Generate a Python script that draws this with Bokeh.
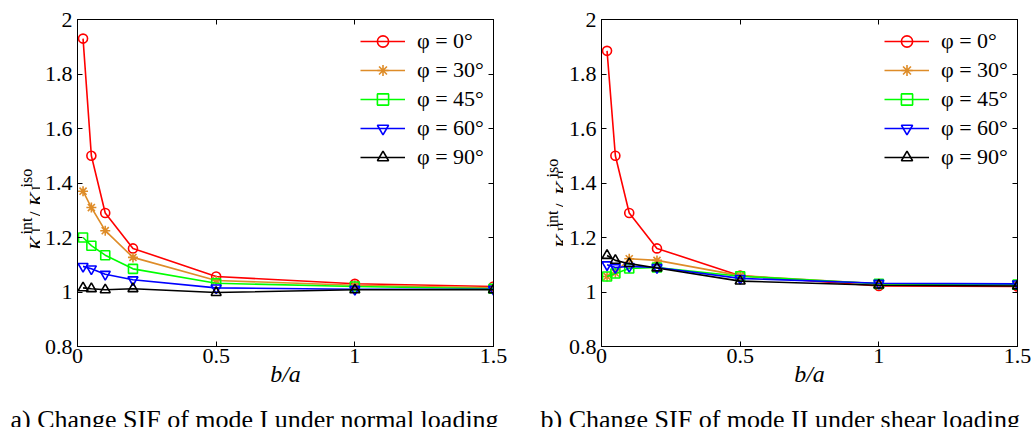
import math
from bokeh.plotting import figure
from bokeh.layouts import row, column
from bokeh.models import (Legend, LegendItem, LinearAxis, FixedTicker,
                          CustomJSTickFormatter, Label)
from bokeh.embed import file_html
from bokeh.resources import INLINE

# ---------------- data ----------------
b_over_a = [0.02, 0.05, 0.1, 0.2, 0.5, 1.0, 1.5]
phi_labels = ["φ = 0°", "φ = 30°", "φ = 45°", "φ = 60°", "φ = 90°"]

# a) mode I, normal loading : K_I^int / K_I^iso
modeI_phi0 = [1.93, 1.50, 1.29, 1.16, 1.057, 1.03, 1.02]
modeI_phi30 = [1.37, 1.31, 1.225, 1.127, 1.042, 1.025, 1.015]
modeI_phi45 = [1.20, 1.17, 1.135, 1.085, 1.032, 1.02, 1.012]
modeI_phi60 = [1.094, 1.085, 1.065, 1.045, 1.015, 1.01, 1.01]
modeI_phi90 = [1.015, 1.012, 1.008, 1.012, 0.998, 1.008, 1.008]

# b) mode II, shear loading : K_II^int / K_II^iso
modeII_phi0 = [1.885, 1.50, 1.29, 1.16, 1.06, 1.022, 1.02]
modeII_phi30 = [1.057, 1.07, 1.122, 1.116, 1.06, 1.03, 1.025]
modeII_phi45 = [1.057, 1.068, 1.086, 1.09, 1.058, 1.03, 1.027]
modeII_phi60 = [1.10, 1.09, 1.094, 1.09, 1.05, 1.032, 1.03]
modeII_phi90 = [1.134, 1.116, 1.104, 1.088, 1.04, 1.025, 1.022]

x_ticks = [0, 0.5, 1, 1.5]
y_ticks = [0.8, 1.0, 1.2, 1.4, 1.6, 1.8, 2.0]

captions = ["a) Change SIF of mode I under normal loading",
            "b) Change SIF of mode II under shear loading"]

# ---------------- style ----------------
FONT = "Liberation Serif"
colors = ["#ff0000", "#de8c28", "#00ff00", "#0000ff", "#000000"]
markers = ["circle", "asterisk", "square", "inverted_triangle", "triangle"]
msizes = [9, 10, 9, 10, 10]
ROW_H = 400

fmt = CustomJSTickFormatter(code="return String(Math.round(tick*10)/10);")


def blank_fig(w, h):
    f = figure(frame_width=w, frame_height=h, x_range=(0, w), y_range=(0, h),
               output_backend="svg", toolbar_location=None,
               min_border=0, min_border_left=0, min_border_right=0,
               min_border_top=0, min_border_bottom=0)
    f.title.visible = False
    f.axis.visible = False
    f.grid.visible = False
    f.outline_line_color = None
    return f


def add_label(f, txt, size, style, x, y, angle=0.0, align="left"):
    f.add_layout(Label(x=x, y=y, x_units="screen", y_units="screen", text=txt,
                       angle=angle, text_align=align, text_baseline="alphabetic",
                       text_font=FONT, text_font_size=f"{size}px",
                       text_font_style=style, text_color="black"))


def make_plot(series, border_left, border_right):
    p = figure(frame_width=416, frame_height=327,
               x_range=(0, 1.5), y_range=(0.8, 2.0),
               output_backend="svg", toolbar_location=None,
               min_border_left=border_left, min_border_right=border_right,
               min_border_top=19, min_border_bottom=ROW_H - 19 - 327)
    p.xgrid.visible = False
    p.ygrid.visible = False
    p.outline_line_color = "black"

    p.xaxis.formatter = fmt
    p.yaxis.formatter = fmt
    p.axis.major_label_text_font = FONT
    p.axis.major_label_text_font_size = "22px"
    p.axis.major_label_text_color = "black"
    p.axis.major_tick_in = 5
    p.axis.major_tick_out = 0
    p.axis.minor_tick_line_color = None
    p.axis.axis_line_color = "black"
    p.axis.major_tick_line_color = "black"
    p.xaxis.ticker = FixedTicker(ticks=x_ticks)
    p.yaxis.ticker = FixedTicker(ticks=y_ticks)
    p.xaxis.major_label_standoff = 2
    p.yaxis.major_label_standoff = 5
    p.xaxis.axis_label = "b/a"
    p.xaxis.axis_label_text_font = FONT
    p.xaxis.axis_label_text_font_size = "24px"
    p.xaxis.axis_label_text_font_style = "italic"
    p.xaxis.axis_label_text_color = "black"
    p.xaxis.axis_label_standoff = -5

    # mirrored box ticks (no labels)
    top = LinearAxis(ticker=FixedTicker(ticks=x_ticks), major_tick_in=5, major_tick_out=0,
                     major_label_text_font_size="0px", major_label_text_color=None,
                     major_label_standoff=0, minor_tick_line_color=None)
    right = LinearAxis(ticker=FixedTicker(ticks=y_ticks), major_tick_in=5, major_tick_out=0,
                       major_label_text_font_size="0px", major_label_text_color=None,
                       major_label_standoff=0, minor_tick_line_color=None)
    p.add_layout(top, "above")
    p.add_layout(right, "right")

    items = []
    for ys, c, m, s, lab in zip(series, colors, markers, msizes, phi_labels):
        ln = p.line(b_over_a, ys, line_color=c, line_width=1.6)
        sc = p.scatter(b_over_a, ys, marker=m, size=s, line_color=c,
                       fill_color=None, line_width=1.6)
        items.append(LegendItem(label=lab, renderers=[ln, sc]))

    legend = Legend(items=items, location=(283, 175), border_line_color=None,
                    background_fill_alpha=0, padding=0, margin=0, spacing=1,
                    glyph_width=45, glyph_height=28, label_height=28,
                    label_standoff=12, label_text_font=FONT,
                    label_text_font_size="22px", label_text_color="black")
    p.add_layout(legend)
    return p


def ylabel_fig(w, sub, pos):
    """Rotated y-axis label K_sub^int / K_sub^iso built from real text pieces."""
    f = blank_fig(w, ROW_H)
    pieces = [("K", 21, "italic"), (sub, 14, "normal"), ("int", 16, "normal"),
              ("/", 22, "normal"), ("K", 21, "italic"), (sub, 14, "normal"),
              ("iso", 16, "normal")]
    for (txt, size, style), (x, y) in zip(pieces, pos):
        add_label(f, txt, size, style, x, ROW_H - y, angle=math.pi / 2)
    return f


yl1 = ylabel_fig(40, "I", [(36, 231), (37, 213), (26, 215), (36, 198),
                           (36, 187), (37, 171), (26, 168)])
p1 = make_plot([modeI_phi0, modeI_phi30, modeI_phi45, modeI_phi60, modeI_phi90], 37, 24)
yl2 = ylabel_fig(46, "II", [(45, 229), (46, 212), (35, 208), (45, 190),
                            (45, 176), (46, 160), (35, 158)])
p2 = make_plot([modeII_phi0, modeII_phi30, modeII_phi45, modeII_phi60, modeII_phi90], 38, 18)

cap = blank_fig(1035, 427 - ROW_H)
add_label(cap, captions[0], 26, "normal", 10, 8.5)
add_label(cap, captions[1], 26, "normal", 540, 8.5)

layout = column(row(yl1, p1, yl2, p2, spacing=0), cap, spacing=0)
open("out.html", "w").write(file_html(layout, INLINE))
